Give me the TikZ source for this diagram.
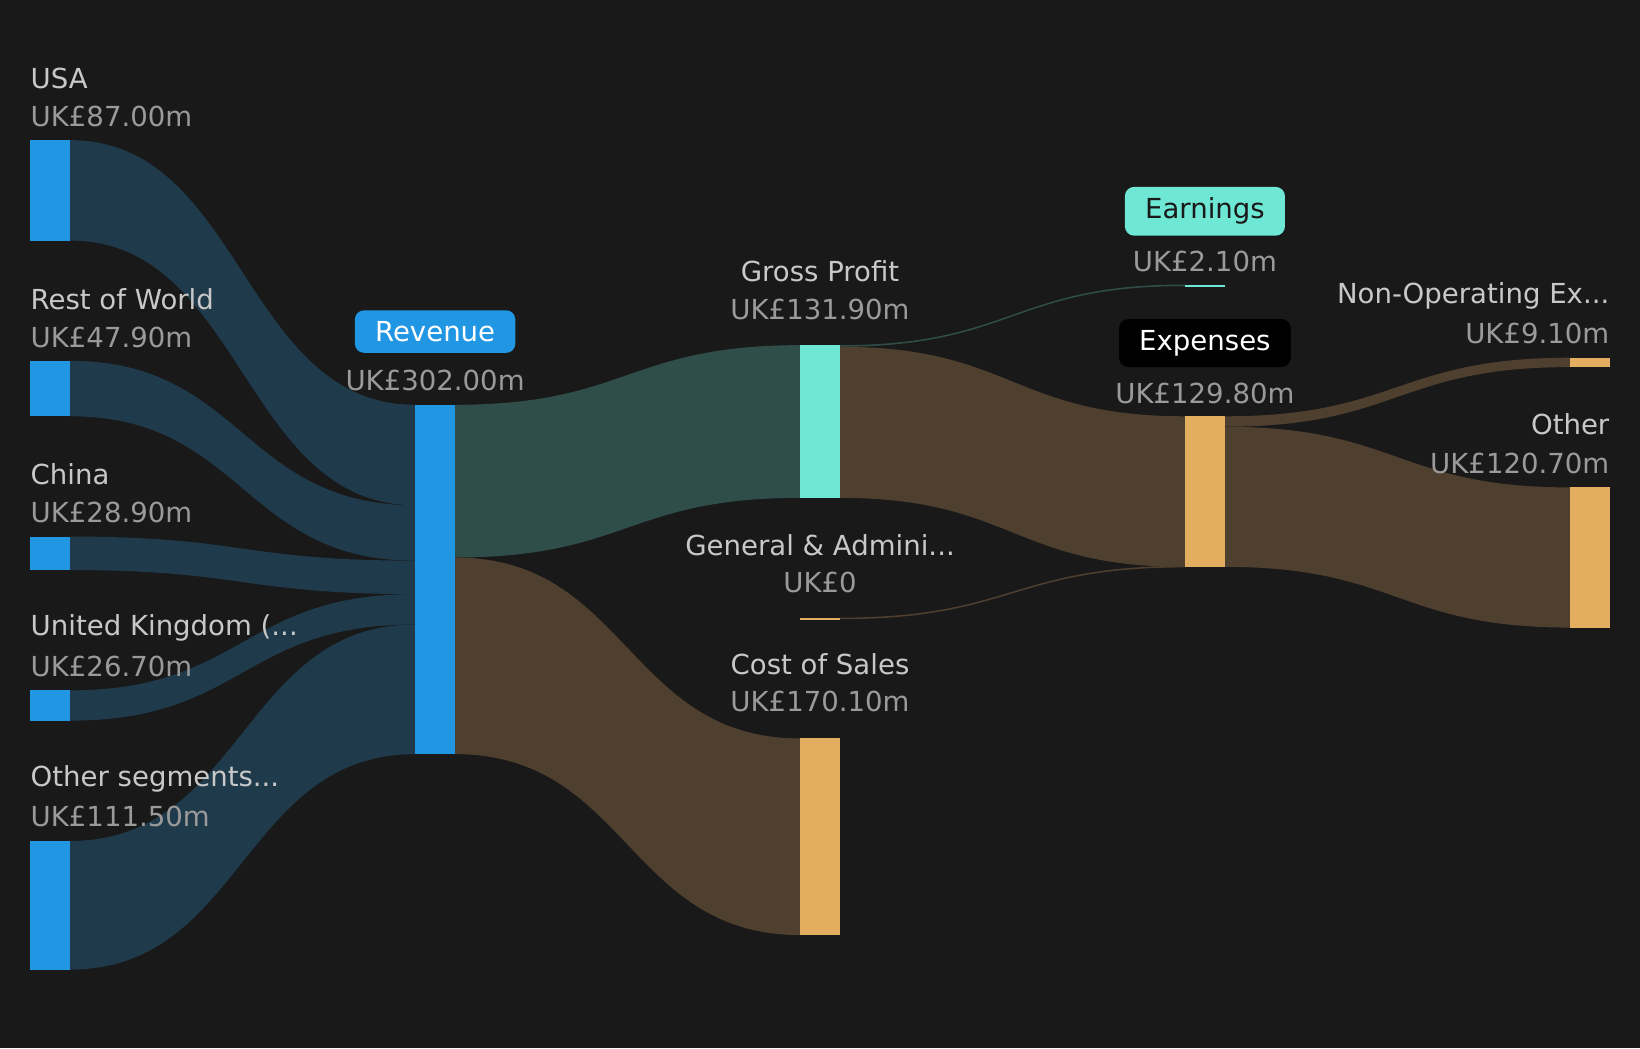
\documentclass[tikz,border=0pt]{standalone}
\usepackage{fontspec}
\setmainfont{DejaVu Sans}
\usetikzlibrary{positioning}

\definecolor{bg}{HTML}{191919}
\definecolor{rev}{HTML}{2196E3}
\definecolor{revflow}{HTML}{1E3A4B}
\definecolor{prof}{HTML}{6EE7D5}
\definecolor{profflow}{HTML}{2F4E4A}
\definecolor{cost}{HTML}{E3AE60}
\definecolor{costflow}{HTML}{4E3F2E}
\definecolor{lbl}{HTML}{C8C8C8}
\definecolor{val}{HTML}{9A9A9A}

\tikzset{
  name-text/.style={text=lbl, font=\fontsize{15}{18}\selectfont, inner sep=0},
  value-text/.style={text=val, font=\fontsize{15}{18}\selectfont, inner sep=0},
  tag-box/.style={font=\fontsize{15}{18}\selectfont, rounded corners=5pt, inner xsep=11pt, inner ysep=6pt}
}

% flow band between two bars
\newcommand{\band}[7]{%
  \fill[#7] (#1,#2) .. controls ({(#1+#4)/2},#2) and ({(#1+#4)/2},#5) .. (#4,#5)
    -- (#4,#6) .. controls ({(#1+#4)/2},#6) and ({(#1+#4)/2},#3) .. (#1,#3) -- cycle;}

\begin{document}
\begin{tikzpicture}[x=0.02cm, y=-0.02cm]

  \fill[bg] (0,0) rectangle (1568,1002);
  \useasboundingbox (0,0) rectangle (1568,1002);

  % segments into revenue
  \band{67}{134}{230}{397}{387}{483}{revflow}
  \band{67}{345}{398}{397}{483}{536}{revflow}
  \band{67}{513}{545}{397}{536}{568}{revflow}
  \band{67}{660}{689}{397}{568}{597}{revflow}
  \band{67}{804}{927}{397}{597}{721}{revflow}

  % revenue split
  \band{435}{387}{533}{765}{330}{476}{profflow}
  \band{435}{533}{721}{765}{706}{894}{costflow}

  % gross profit split
  \band{803}{330}{331.5}{1133}{272}{273.5}{profflow}
  \band{803}{331.5}{476}{1133}{398}{542}{costflow}
  \band{803}{590.5}{592}{1133}{541}{542.5}{costflow}

  % expenses split
  \band{1171}{398}{408}{1501}{342}{351}{costflow}
  \band{1171}{408}{542}{1501}{466}{600}{costflow}

  % bars
  \foreach \y/\h in {134/230, 345/398, 513/545, 660/689, 804/927}
    \fill[rev] (29,\y) rectangle (67,\h);
  \fill[rev] (397,387) rectangle (435,721);
  \fill[prof] (765,330) rectangle (803,476);
  \fill[cost] (765,706) rectangle (803,894);
  \fill[cost] (765,590.5) rectangle (803,592.5);
  \fill[prof] (1133,272) rectangle (1171,274);
  \fill[cost] (1133,398) rectangle (1171,542);
  \fill[cost] (1501,342) rectangle (1539,351);
  \fill[cost] (1501,466) rectangle (1539,600);

  % left labels
  \node[name-text, anchor=west] (usa) at (29,75) {USA};
  \node[value-text, anchor=west] (usa-v) at (29,111) {UK£87.00m};
  \node[name-text, anchor=west] (row) at (29,286) {Rest of World};
  \node[value-text, anchor=west] (row-v) at (29,323) {UK£47.90m};
  \node[name-text, anchor=west] (china) at (29,453) {China};
  \node[value-text, anchor=west] (china-v) at (29,490) {UK£28.90m};
  \node[name-text, anchor=west] (uk) at (29,600) {United Kingdom (...};
  \node[value-text, anchor=west] (uk-v) at (29,637) {UK£26.70m};
  \node[name-text, anchor=west] (oseg) at (29,745) {Other segments...};
  \node[value-text, anchor=west] (oseg-v) at (29,781) {UK£111.50m};

  % middle labels
  \node[tag-box, fill=rev, text=white] (revenue) at (416,317) {Revenue};
  \node[value-text] (revenue-v) at (416,364) {UK£302.00m};
  \node[name-text] (gross) at (784,259) {Gross Profit};
  \node[value-text] (gross-v) at (784,296) {UK£131.90m};
  \node[name-text] (gna) at (784,521) {General \& Admini...};
  \node[value-text] (gna-v) at (784,557) {UK£0};
  \node[name-text] (cos) at (784,635) {Cost of Sales};
  \node[value-text] (cos-v) at (784,671) {UK£170.10m};

  \node[tag-box, fill=prof, text=bg] (earn) at (1152,202) {Earnings};
  \node[value-text] (earn-v) at (1152,250) {UK£2.10m};
  \node[tag-box, fill=black, text=white] (exp) at (1152,328) {Expenses};
  \node[value-text] (exp-v) at (1152,376) {UK£129.80m};

  % right labels
  \node[name-text, anchor=east] (nonop) at (1539,283) {Non-Operating Ex...};
  \node[value-text, anchor=east] (nonop-v) at (1539,319) {UK£9.10m};
  \node[name-text, anchor=east] (other) at (1539,406) {Other};
  \node[value-text, anchor=east] (other-v) at (1539,443) {UK£120.70m};

\end{tikzpicture}
\end{document}
